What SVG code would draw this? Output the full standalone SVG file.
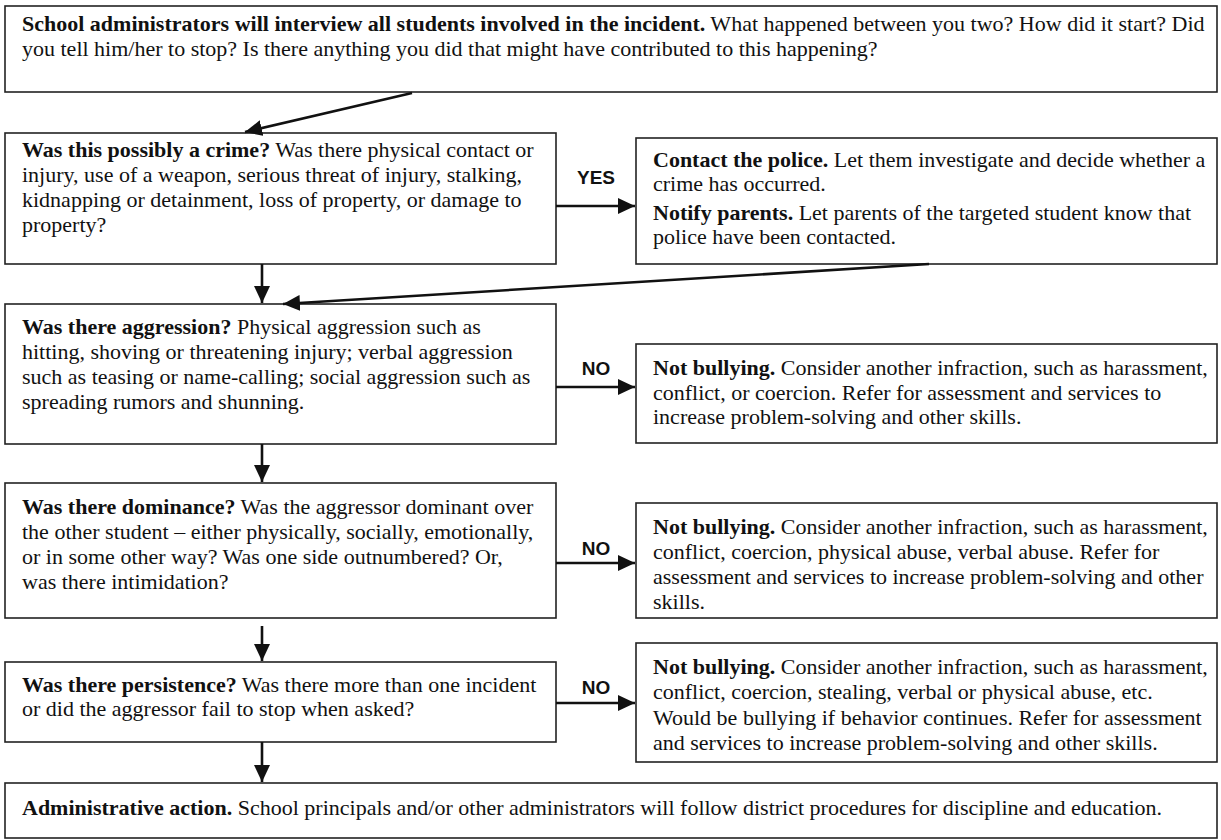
<svg xmlns="http://www.w3.org/2000/svg" width="1221" height="840" viewBox="0 0 1221 840">
<style>
.box{fill:#fff;stroke:#222;stroke-width:1.6}
.t{font-family:"Liberation Serif","Times New Roman",serif;font-size:22px;fill:#111}
.b{font-weight:bold}
.lbl{font-family:"Liberation Sans",Arial,sans-serif;font-size:19px;font-weight:bold;fill:#111;text-anchor:middle}
.c{fill:none;stroke:#111;stroke-width:2.6;marker-end:url(#ah)}
</style>
<defs>
<marker id="ah" markerUnits="userSpaceOnUse" markerWidth="18" markerHeight="16" refX="17" refY="8" orient="auto">
<path d="M0,0 L17,8 L0,16 z" fill="#111"/>
</marker>
</defs>
<rect width="1221" height="840" fill="#fff"/>

<g id="start">
<rect class="box" x="5" y="6" width="1212" height="86"/>
<text class="t" x="22" y="31"><tspan class="b">School administrators will interview all students involved in the incident.</tspan> What happened between you two? How did it start? Did</text>
<text class="t" x="22" y="56">you tell him/her to stop? Is there anything you did that might have contributed to this happening?</text>
</g>

<g id="crime">
<rect class="box" x="5" y="133" width="551" height="131"/>
<text class="t" x="22" y="157"><tspan class="b">Was this possibly a crime?</tspan> Was there physical contact or</text>
<text class="t" x="22" y="182">injury, use of a weapon, serious threat of injury, stalking,</text>
<text class="t" x="22" y="207">kidnapping or detainment, loss of property, or damage to</text>
<text class="t" x="22" y="232">property?</text>
</g>

<g id="police">
<rect class="box" x="636" y="138" width="581" height="126"/>
<text class="t" x="653" y="167"><tspan class="b">Contact the police.</tspan> Let them investigate and decide whether a</text>
<text class="t" x="653" y="191">crime has occurred.</text>
<text class="t" x="653" y="220"><tspan class="b">Notify parents.</tspan> Let parents of the targeted student know that</text>
<text class="t" x="653" y="244">police have been contacted.</text>
</g>

<g id="aggression">
<rect class="box" x="5" y="304" width="551" height="140"/>
<text class="t" x="22" y="334"><tspan class="b">Was there aggression?</tspan> Physical aggression such as</text>
<text class="t" x="22" y="359">hitting, shoving or threatening injury; verbal aggression</text>
<text class="t" x="22" y="384">such as teasing or name-calling; social aggression such as</text>
<text class="t" x="22" y="409">spreading rumors and shunning.</text>
</g>

<g id="notbullying1">
<rect class="box" x="636" y="344" width="581" height="99"/>
<text class="t" x="653" y="375"><tspan class="b">Not bullying.</tspan> Consider another infraction, such as harassment,</text>
<text class="t" x="653" y="400">conflict, or coercion. Refer for assessment and services to</text>
<text class="t" x="653" y="424">increase problem-solving and other skills.</text>
</g>

<g id="dominance">
<rect class="box" x="5" y="483" width="551" height="135"/>
<text class="t" x="22" y="514"><tspan class="b">Was there dominance?</tspan> Was the aggressor dominant over</text>
<text class="t" x="22" y="539">the other student – either physically, socially, emotionally,</text>
<text class="t" x="22" y="564">or in some other way? Was one side outnumbered? Or,</text>
<text class="t" x="22" y="589">was there intimidation?</text>
</g>

<g id="notbullying2">
<rect class="box" x="636" y="503" width="581" height="115"/>
<text class="t" x="653" y="534"><tspan class="b">Not bullying.</tspan> Consider another infraction, such as harassment,</text>
<text class="t" x="653" y="559">conflict, coercion, physical abuse, verbal abuse. Refer for</text>
<text class="t" x="653" y="584">assessment and services to increase problem-solving and other</text>
<text class="t" x="653" y="609">skills.</text>
</g>

<g id="persistence">
<rect class="box" x="5" y="662" width="551" height="80"/>
<text class="t" x="22" y="692"><tspan class="b">Was there persistence?</tspan> Was there more than one incident</text>
<text class="t" x="22" y="716">or did the aggressor fail to stop when asked?</text>
</g>

<g id="notbullying3">
<rect class="box" x="636" y="643" width="581" height="119"/>
<text class="t" x="653" y="674"><tspan class="b">Not bullying.</tspan> Consider another infraction, such as harassment,</text>
<text class="t" x="653" y="699">conflict, coercion, stealing, verbal or physical abuse, etc.</text>
<text class="t" x="653" y="725">Would be bullying if behavior continues. Refer for assessment</text>
<text class="t" x="653" y="750">and services to increase problem-solving and other skills.</text>
</g>

<g id="admin">
<rect class="box" x="5" y="783" width="1212" height="55"/>
<text class="t" x="22" y="815"><tspan class="b">Administrative action.</tspan> School principals and/or other administrators will follow district procedures for discipline and education.</text>
</g>

<g id="connectors">
<line class="c" x1="412" y1="93" x2="245" y2="132"/>
<line class="c" x1="556" y1="206" x2="635" y2="206"/>
<line class="c" x1="262" y1="264" x2="262" y2="303"/>
<line class="c" x1="929" y1="264" x2="283" y2="304"/>
<line class="c" x1="262" y1="444" x2="262" y2="482"/>
<line class="c" x1="556" y1="387" x2="635" y2="387"/>
<line class="c" x1="262" y1="626" x2="262" y2="661"/>
<line class="c" x1="556" y1="563" x2="635" y2="563"/>
<line class="c" x1="262" y1="742" x2="262" y2="782"/>
<line class="c" x1="556" y1="703" x2="635" y2="703"/>
<text class="lbl" x="596" y="184">YES</text>
<text class="lbl" x="596" y="375">NO</text>
<text class="lbl" x="596" y="555">NO</text>
<text class="lbl" x="596" y="694">NO</text>
</g>
</svg>
